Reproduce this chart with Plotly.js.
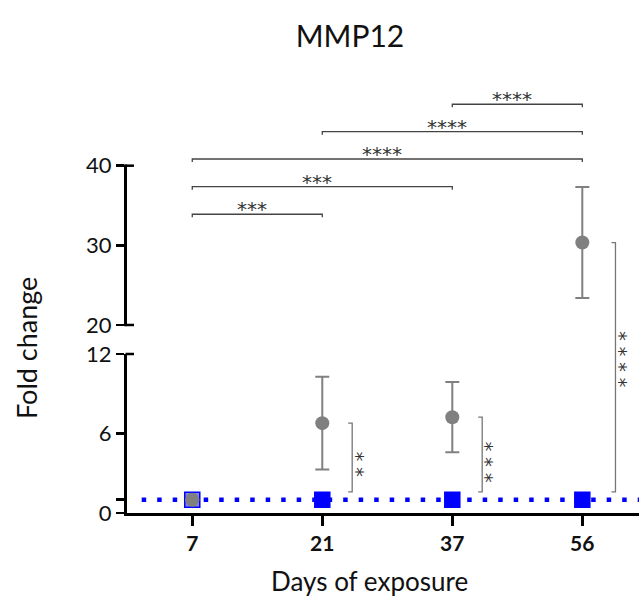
<!DOCTYPE html>
<html><head><meta charset="utf-8">
<script src="https://cdn.plot.ly/plotly-3.0.1.min.js"></script>
<style>html,body{margin:0;padding:0;background:#fff}#chart{width:639px;height:597px}</style>
</head><body><div id="chart"></div>
<script>
// ---- data ----
const days = ['7', '21', '37', '56'];
const treatedMean = [1.0, 6.78, 7.23, 30.35];
const treatedSem = [0, 3.5, 2.65, 6.97];
const controlMean = [1, 1, 1, 1];
const baseline = 1;
const comparisons = [['7', '21', '***'], ['7', '37', '***'], ['7', '56', '****'], ['21', '56', '****'], ['37', '56', '****']];
const vsControl = ['', '**', '***', '****'];
const lowerTickVals = [0, 1, 6, 12];
const lowerTickText = ['0', '', '6', '12'];
const upperTickVals = [20, 30, 40];

// ---- layout geometry ----
const W = 639, H = 597, M = {l: 127, r: 0, t: 85, b: 84};
const PW = W - M.l - M.r, PH = H - M.t - M.b;
const xr = [-0.502, 3.436];
const lowDom = [0, 0.3715], lowRange = [0, 12];
const upDom = [0.4393, 1], upRange = [20, 50.13];
const axisBreak = 12;
const bracketLevels = [33.9, 37.36, 40.84, 44.27, 47.71];
const vBracketOffset = [0.23, 0.23, 0.23, 0.255];
const vLabelShift = [0, -7, -8, 8];
const FONT = 'Lato, "Open Sans", sans-serif';
const STAR_FONT = '"DejaVu Sans", sans-serif';

const xP = i => (i - xr[0]) / (xr[1] - xr[0]);
const yLowP = v => lowDom[0] + (v - lowRange[0]) / (lowRange[1] - lowRange[0]) * (lowDom[1] - lowDom[0]);
const yUpP = v => upDom[0] + (v - upRange[0]) / (upRange[1] - upRange[0]) * (upDom[1] - upDom[0]);
const yP = v => v > axisBreak ? yUpP(v) : yLowP(v);
const px = p => p / PW, py = p => p / PH;

const idx = days.map((d, i) => i);
const lowI = idx.filter(i => treatedMean[i] <= axisBreak);
const upI = idx.filter(i => treatedMean[i] > axisBreak);

const errStyle = ii => ({type: 'data', symmetric: true, array: ii.map(i => treatedSem[i]),
  color: '#808080', thickness: 2, width: 7, visible: true});

const traces = [
  {x: idx, y: controlMean, type: 'scatter', mode: 'markers', name: 'Control', yaxis: 'y',
   marker: {symbol: 'square', size: 15, color: idx.map(i => i === 0 ? '#8484e6' : '#0000ff'),
            line: {color: '#0000ff', width: 1.5}}},
  {x: lowI, y: lowI.map(i => treatedMean[i]), type: 'scatter', mode: 'markers', name: 'MMP12', yaxis: 'y',
   error_y: errStyle(lowI), marker: {symbol: 'circle', size: 14, color: '#808080'}},
  {x: upI, y: upI.map(i => treatedMean[i]), type: 'scatter', mode: 'markers', name: 'MMP12 ', yaxis: 'y2',
   error_y: errStyle(upI), marker: {symbol: 'circle', size: 14, color: '#808080'}}
];

const shapes = [];
const annotations = [];

// baseline dotted line
shapes.push({type: 'line', layer: 'below', xref: 'paper', yref: 'y', x0: xP(-0.389), x1: 1,
  y0: baseline, y1: baseline, line: {color: '#0000ff', width: 4.5, dash: '4.5px,11px'}});

// upper axis line (broken axis) and caps
const lineX = px(-1.5);
shapes.push({type: 'line', xref: 'paper', yref: 'paper', x0: lineX, x1: lineX,
  y0: yUpP(upperTickVals[0]) - py(1.2), y1: yUpP(upperTickVals[upperTickVals.length - 1]) + py(1.2),
  line: {color: '#000', width: 3}});
[yUpP(upperTickVals[0]), yUpP(upperTickVals[upperTickVals.length - 1]), yLowP(lowRange[1])].forEach(yy => {
  shapes.push({type: 'line', xref: 'paper', yref: 'paper', x0: lineX, x1: px(7), y0: yy, y1: yy,
    line: {color: '#000', width: 2.5}});
});

// horizontal comparison brackets
comparisons.forEach((c, k) => {
  const a = xP(days.indexOf(c[0])), b = xP(days.indexOf(c[1]));
  const y = yUpP(bracketLevels[k]);
  shapes.push({type: 'path', xref: 'paper', yref: 'paper',
    path: `M ${a},${y - py(3)} L ${a},${y} L ${b},${y} L ${b},${y - py(3)}`,
    line: {color: '#444', width: 1.3}});
  annotations.push({xref: 'paper', yref: 'paper', x: (a + b) / 2 - px(5), y: y, text: c[2], showarrow: false,
    xanchor: 'center', yanchor: 'bottom', yshift: -9, font: {family: STAR_FONT, size: 20, color: '#333'}});
});

// vertical brackets vs control (stars written along the bracket)
vsControl.forEach((s, i) => {
  if (!s) return;
  const xv = xP(i + vBracketOffset[i]);
  const yt = yP(treatedMean[i]), yb = yLowP(controlMean[i] + 0.6);
  shapes.push({type: 'path', xref: 'paper', yref: 'paper',
    path: `M ${xv - px(4)},${yt} L ${xv},${yt} L ${xv},${yb} L ${xv - px(4)},${yb}`,
    line: {color: '#777', width: 1.3}});
  annotations.push({xref: 'paper', yref: 'paper', x: xv + px(4.5), y: (yt + yb) / 2, text: s.split('').join(' '),
    showarrow: false, textangle: 90, xanchor: 'center', yanchor: 'middle', yshift: vLabelShift[i],
    font: {family: STAR_FONT, size: 19, color: '#333'}});
});

// axis titles
annotations.push({xref: 'paper', yref: 'paper', x: (369 - M.l) / PW, y: (513 - 581) / PH,
  text: 'Days of exposure', showarrow: false, xanchor: 'center', yanchor: 'middle',
  font: {family: FONT, size: 26, color: '#111'}});
annotations.push({xref: 'paper', yref: 'paper', x: (27 - M.l) / PW, y: (513 - 348) / PH, textangle: -90,
  text: 'Fold change', showarrow: false, xanchor: 'center', yanchor: 'middle',
  font: {family: FONT, size: 27, color: '#111'}});

const tickFont = {family: FONT, size: 22, color: '#111'};
const layout = {
  width: W, height: H, margin: M, showlegend: false,
  paper_bgcolor: '#fff', plot_bgcolor: '#fff',
  title: {text: 'MMP12', font: {family: FONT, size: 30, color: '#111'}, xref: 'container', yref: 'container',
          x: 350 / W, y: 1 - 36 / H, xanchor: 'center', yanchor: 'middle'},
  xaxis: {range: xr, tickvals: idx, ticktext: days, showline: true, linewidth: 3, linecolor: '#000',
          ticks: 'outside', ticklen: 10, tickwidth: 3, tickcolor: '#000', showgrid: false, zeroline: false,
          tickfont: {family: FONT, size: 21, weight: 'bold', color: '#111'}, anchor: 'y', fixedrange: true},
  yaxis: {domain: lowDom, range: lowRange, tickvals: lowerTickVals, ticktext: lowerTickText,
          showline: true, linewidth: 3, linecolor: '#000', ticks: 'outside', ticklen: 8, tickwidth: 2.5,
          tickcolor: '#000', showgrid: false, zeroline: false, tickfont: tickFont, anchor: 'x', fixedrange: true},
  yaxis2: {domain: upDom, range: upRange, tickvals: upperTickVals, showline: true, linewidth: 3,
           linecolor: 'rgba(0,0,0,0)', ticks: 'outside', ticklen: 8, tickwidth: 2.5, tickcolor: '#000',
           showgrid: false, zeroline: false, tickfont: tickFont, anchor: 'x', fixedrange: true},
  shapes: shapes, annotations: annotations
};

Plotly.newPlot('chart', traces, layout, {displayModeBar: false, staticPlot: true});
</script>
</body></html>
